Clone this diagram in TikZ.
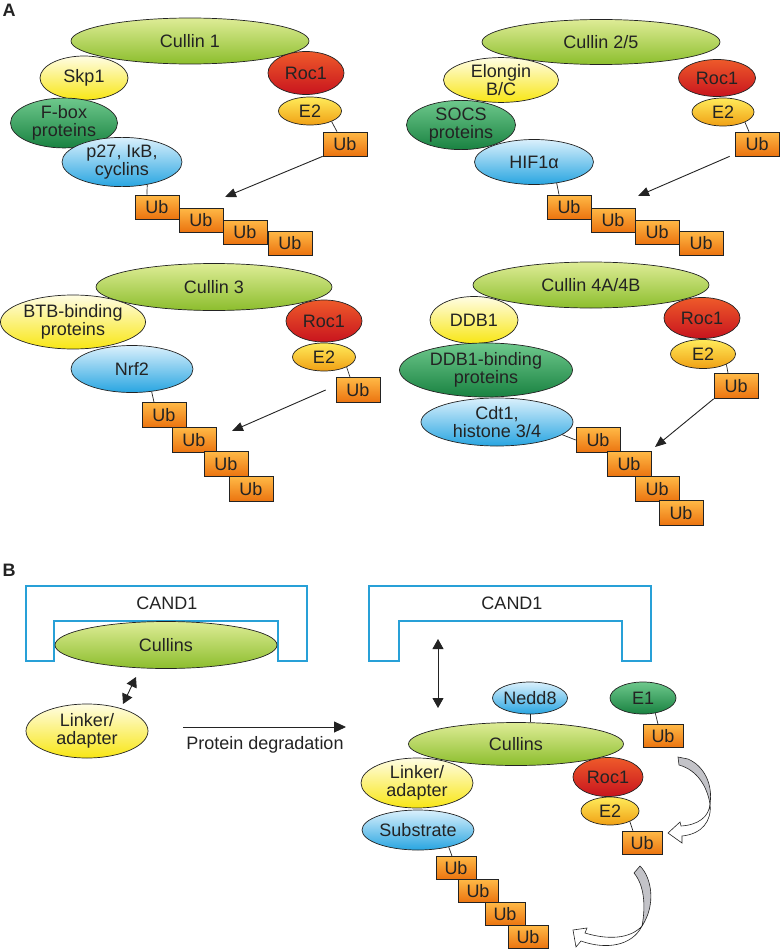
\documentclass[tikz,border=0pt]{standalone}
\usepackage{fontspec}
\setmainfont{Liberation Sans}
\usetikzlibrary{shapes.geometric,arrows.meta}
\definecolor{culT}{RGB}{222,236,150}
\definecolor{culB}{RGB}{140,190,45}
\definecolor{yelT}{RGB}{255,253,228}
\definecolor{yelB}{RGB}{248,230,20}
\definecolor{grnT}{RGB}{110,200,140}
\definecolor{grnB}{RGB}{25,130,65}
\definecolor{bluT}{RGB}{218,240,252}
\definecolor{bluB}{RGB}{40,165,225}
\definecolor{rocT}{RGB}{238,90,42}
\definecolor{rocB}{RGB}{200,20,30}
\definecolor{etT}{RGB}{255,235,90}
\definecolor{etB}{RGB}{240,160,20}
\definecolor{ubT}{RGB}{255,185,70}
\definecolor{ubB}{RGB}{235,115,15}
\definecolor{candc}{RGB}{40,160,215}
\definecolor{ink}{RGB}{35,35,35}
\definecolor{arrgray}{RGB}{195,195,200}
\newcommand{\pfont}{\fontsize{18}{18.5}\selectfont}
\begin{document}
\begin{tikzpicture}[x=1pt,y=-1pt,
  prot/.style={ellipse, draw=ink, line width=0.7pt, inner sep=0pt, align=center, font=\pfont, text=ink},
  cul/.style={prot, top color=culT, bottom color=culB},
  adapt/.style={prot, top color=yelT, bottom color=yelB},
  recep/.style={prot, top color=grnT, bottom color=grnB},
  subs/.style={prot, top color=bluT, bottom color=bluB},
  rocs/.style={prot, top color=rocT, bottom color=rocB},
  etwo/.style={prot, top color=etT, bottom color=etB},
  ubox/.style={rectangle, draw=ink, line width=0.7pt, top color=ubT, bottom color=ubB, minimum width=44pt, minimum height=24pt, inner sep=0pt, font=\pfont, text=ink},
  ubsm/.style={ubox, minimum width=40pt, minimum height=23pt},
  con/.style={draw=ink, line width=0.7pt},
  arr/.style={-{Triangle[length=11pt,width=9pt]}, line width=0.9pt, draw=ink, ink},
  darr/.style={{Triangle[length=10pt,width=11pt]}-{Triangle[length=10pt,width=11pt]}, line width=0.9pt, draw=ink, ink},
  cand/.style={draw=candc, line width=1.3pt},
  lbl/.style={font=\fontsize{18}{18}\selectfont\bfseries, text=ink, inner sep=0pt},
  plain/.style={font=\pfont, text=ink, inner sep=0pt},
  ribbon/.style={draw=ink, line width=0.6pt}]
\useasboundingbox (0,0) rectangle (780,950);

% ---------- Panel A ----------
\node[lbl] (labA) at (9,10) {A};

% top-left: Cullin 1
\node[cul, minimum width=238pt, minimum height=46pt] (cul1) at (190,41) {Cullin 1};
\node[adapt, minimum width=88pt, minimum height=44pt] (skp1) at (84,78) {Skp1};
\node[recep, minimum width=107pt, minimum height=47pt] (fbox) at (64,123) {F-box\\proteins};
\node[subs, minimum width=120pt, minimum height=45pt] (p27) at (122,162) {p27, IκB,\\cyclins};
\node[rocs, minimum width=76pt, minimum height=43pt] (roca) at (306,73) {Roc1};
\node[etwo, minimum width=63pt, minimum height=28pt] (e2a) at (310,111) {E2};
\node[ubox] (uba) at (345,144) {Ub};
\node[ubox] (ua1) at (157,207) {Ub};
\node[ubox] (ua2) at (201,220) {Ub};
\node[ubox] (ua3) at (245,232) {Ub};
\node[ubox] (ua4) at (290,243) {Ub};
\draw[con] (e2a.-26) -- ([xshift=-8pt]uba.north);
\draw[con] (p27.-42) -- ([xshift=-10pt]ua1.north);
\coordinate (tipA) at (225,197);
\draw[arr] (uba.south west) -- (tipA);

% top-right: Cullin 2/5
\node[cul, minimum width=238pt, minimum height=45pt] (cul2) at (601,42) {Cullin 2/5};
\node[adapt, minimum width=115pt, minimum height=43pt] (elo) at (501,80) {Elongin\\B/C};
\node[recep, minimum width=109pt, minimum height=46pt] (socs) at (461,125) {SOCS\\proteins};
\node[subs, minimum width=119pt, minimum height=45pt] (hif) at (534,162) {HIF1α};
\node[rocs, minimum width=77pt, minimum height=37pt] (rocb) at (717,78) {Roc1};
\node[etwo, minimum width=62pt, minimum height=28pt] (e2b) at (723,112) {E2};
\node[ubox] (ubb) at (757,144) {Ub};
\node[ubox] (ub1) at (569,207) {Ub};
\node[ubox] (ub2) at (613,220) {Ub};
\node[ubox] (ub3) at (657,232) {Ub};
\node[ubox] (ub4) at (701,243) {Ub};
\draw[con] (e2b.-25) -- ([xshift=-8pt]ubb.north);
\draw[con] (hif.-43) -- ([xshift=-10pt]ub1.north);
\coordinate (tipB) at (638,196);
\draw[arr] ([xshift=-5pt]ubb.south west) -- (tipB);

% bottom-left: Cullin 3
\node[cul, minimum width=236pt, minimum height=47pt] (cul3) at (214,287) {Cullin 3};
\node[adapt, minimum width=145pt, minimum height=54pt] (btb) at (73,322) {BTB-binding\\proteins};
\node[subs, minimum width=122pt, minimum height=47pt] (nrf) at (132,369) {Nrf2};
\node[rocs, minimum width=76pt, minimum height=42pt] (rocc) at (324,321) {Roc1};
\node[etwo, minimum width=63pt, minimum height=28pt] (e2c) at (324,357) {E2};
\node[ubox, minimum height=25pt] (ubc) at (358,390) {Ub};
\node[ubox, minimum height=25pt] (uc1) at (164,415) {Ub};
\node[ubox, minimum height=25pt] (uc2) at (194,440) {Ub};
\node[ubox, minimum height=25pt] (uc3) at (226,464) {Ub};
\node[ubox, minimum height=25pt] (uc4) at (251,489) {Ub};
\draw[con] (e2c.-24) -- ([xshift=-8pt]ubc.north);
\draw[con] (nrf.-49) -- ([xshift=-10pt]uc1.north);
\coordinate (tipC) at (232,431);
\draw[arr] ([xshift=-10pt]ubc.west) -- (tipC);

% bottom-right: Cullin 4A/4B
\node[cul, minimum width=236pt, minimum height=46pt] (cul4) at (591,285) {Cullin 4A/4B};
\node[adapt, minimum width=88pt, minimum height=47pt] (ddb) at (474,320) {DDB1};
\node[recep, minimum width=173pt, minimum height=54pt] (ddbb) at (486,370) {DDB1-binding\\proteins};
\node[subs, minimum width=152pt, minimum height=48pt] (cdt) at (497,422) {Cdt1,\\histone 3/4};
\node[rocs, minimum width=76pt, minimum height=41pt] (rocd) at (702,318) {Roc1};
\node[etwo, minimum width=65pt, minimum height=29pt] (e2d) at (703,354) {E2};
\node[ubox, minimum height=25pt] (ubd) at (736,386) {Ub};
\node[ubox, minimum height=25pt] (ud1) at (598,440) {Ub};
\node[ubox, minimum height=25pt] (ud2) at (629,464) {Ub};
\node[ubox, minimum height=25pt] (ud3) at (657,489) {Ub};
\node[ubox, minimum height=25pt] (ud4) at (681,513) {Ub};
\draw[con] (e2d.-24) -- ([xshift=-8pt]ubd.north);
\draw[con] (cdt.-11) -- (ud1.west);
\coordinate (tipD) at (655,447);
\draw[arr] (ubd.south west) -- (tipD);

% ---------- Panel B ----------
\node[lbl] (labB) at (9,570) {B};

% left CAND1 complex
\draw[cand] (26,661) -- (26,586) -- (307,586) -- (307,661) -- (278,661) -- (278,621) -- (54,621) -- (54,661) -- cycle;
\node[plain] (candL) at (167,603) {CAND1};
\node[cul, minimum width=222pt, minimum height=47pt] (culL) at (166,645) {Cullins};
\node[adapt, minimum width=122pt, minimum height=54pt] (linkL) at (87,731) {Linker/\\adapter};
\coordinate (dl1) at (136,677);
\coordinate (dl2) at (123,704);
\draw[darr] (dl1) -- (dl2);

% protein degradation arrow
\coordinate (pd1) at (183,727);
\coordinate (pd2) at (346,727);
\draw[-{Triangle[length=12pt,width=11pt]}, line width=0.9pt, draw=ink, ink] (pd1) -- (pd2);
\node[plain] (pdtxt) at (265,745) {Protein degradation};

% right CAND1
\draw[cand] (369,661) -- (369,586) -- (651,586) -- (651,661) -- (622,661) -- (622,621) -- (399,621) -- (399,661) -- cycle;
\node[plain] (candR) at (512,603) {CAND1};
\coordinate (dv1) at (438,639);
\coordinate (dv2) at (438,708);
\draw[darr] (dv1) -- (dv2);

% right active complex
\node[subs, minimum width=72pt, minimum height=32pt] (nedd) at (530,698) {Nedd8};
\node[recep, minimum width=66pt, minimum height=32pt] (eone) at (643,698) {E1};
\node[ubsm] (ube) at (663,736) {Ub};
\node[cul, minimum width=215pt, minimum height=43pt] (culR) at (516,744) {Cullins};
\draw[con] (nedd.south) -- (nedd.south |- culR.north);
\draw[con] (eone.-51) -- ([xshift=-5pt]ube.north);
\node[adapt, minimum width=112pt, minimum height=50pt] (linkR) at (417,783) {Linker/\\adapter};
\node[subs, minimum width=112pt, minimum height=40pt] (subR) at (418,830) {Substrate};
\node[rocs, minimum width=70pt, minimum height=39pt] (roce) at (608,777) {Roc1};
\node[etwo, minimum width=58pt, minimum height=28pt] (e2e) at (610,811) {E2};
\node[ubsm] (ubf) at (642,843) {Ub};
\node[ubsm] (ue1) at (456,868) {Ub};
\node[ubsm] (ue2) at (478,891) {Ub};
\node[ubsm] (ue3) at (505,914) {Ub};
\node[ubsm] (ue4) at (528,937) {Ub};
\draw[con] (subR.-29) -- ([xshift=-4pt]ue1.north);
\draw[con] (e2e.-28) -- ([xshift=-9pt]ubf.north);

% curved ribbon arrows
\filldraw[ribbon, fill=arrgray] (678,757) -- (688,759) .. controls (704,766) and (713,784) .. (710,804) .. controls (707,786) and (697,770) .. (679,765) -- cycle;
\filldraw[ribbon, fill=white] (710,804) .. controls (709,817) and (698,825) .. (681,826) -- (680,822) -- (668,833) -- (682,843) -- (682,836) .. controls (702,834) and (712,821) .. (710,804) -- cycle;
\filldraw[ribbon, fill=arrgray] (634,873) -- (640,866) .. controls (652,878) and (656,905) .. (642,926) .. controls (646,905) and (644,885) .. (634,873) -- cycle;
\filldraw[ribbon, fill=white] (642,926) .. controls (630,939) and (608,940) .. (585,933) -- (587,928) -- (573,930) -- (576,947) -- (581,941) .. controls (606,950) and (632,946) .. (642,926) -- cycle;
\end{tikzpicture}
\end{document}
